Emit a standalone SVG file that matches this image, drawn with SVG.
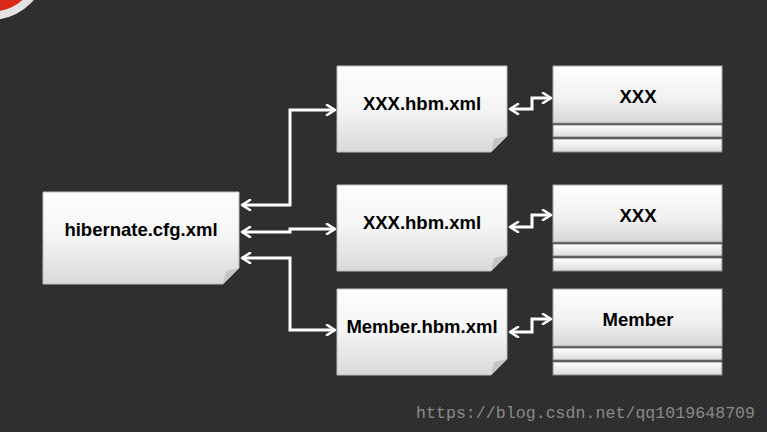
<svg xmlns="http://www.w3.org/2000/svg" width="767" height="432" viewBox="0 0 767 432">
<defs>
<linearGradient id="gdoc" x1="0" y1="0" x2="0" y2="1">
<stop offset="0" stop-color="#ffffff"/><stop offset="0.5" stop-color="#f4f4f4"/><stop offset="1" stop-color="#d9d9d9"/>
</linearGradient>
<linearGradient id="gtab" x1="0" y1="0" x2="0" y2="1">
<stop offset="0" stop-color="#ffffff"/><stop offset="0.6" stop-color="#f0f0f0"/><stop offset="1" stop-color="#d6d6d6"/>
</linearGradient>
<linearGradient id="gstrip" x1="0" y1="0" x2="0" y2="1">
<stop offset="0" stop-color="#ffffff"/><stop offset="1" stop-color="#dcdcdc"/>
</linearGradient>
<pattern id="tex" width="4" height="4" patternUnits="userSpaceOnUse">
<rect width="4" height="4" fill="#323232"/><rect width="2" height="2" fill="#2c2c2c"/><rect x="2" y="2" width="2" height="2" fill="#2c2c2c"/>
</pattern>
<marker id="ah" viewBox="0 0 12 12" refX="10" refY="6" markerWidth="12" markerHeight="12" markerUnits="userSpaceOnUse" orient="auto-start-reverse">
<path d="M2,1 L10,6 L2,11" fill="none" stroke="#ffffff" stroke-width="2.6" stroke-linecap="round" stroke-linejoin="round"/>
</marker>
</defs>
<style>
.doc{fill:url(#gdoc);stroke:#bdbdbd;stroke-width:1}
.fold{fill:#c4c4c4}
.tab{fill:url(#gtab);stroke:#aaaaaa;stroke-width:1}
.strip{fill:url(#gstrip);stroke:#8a8a8a;stroke-width:1}
.lbl{font-family:"Liberation Sans",Arial,sans-serif;font-weight:bold;font-size:18.5px;fill:#000;text-anchor:middle}
.con{fill:none;stroke:#ffffff;stroke-width:3;marker-start:url(#ah);marker-end:url(#ah);stroke-linejoin:miter}
</style>
<rect width="767" height="432" fill="url(#tex)"/>
<g id="badge">
<circle cx="-10" cy="-38" r="54" fill="#d92a1a" stroke="#e4e4e4" stroke-width="8"/>
</g>
<g id="hibernate">
<path class="doc" d="M43,192 H239 V268 L223,284 H43 Z"/>
<path class="fold" d="M239,268 L223,284 L226,271 Z"/>
<text class="lbl" x="141" y="236">hibernate.cfg.xml</text>
</g>
<g id="hbm1">
<path class="doc" d="M337,66 H507 V136 L491,152 H337 Z"/>
<path class="fold" d="M507,136 L491,152 L494,139 Z"/>
<text class="lbl" x="422" y="110">XXX.hbm.xml</text>
</g>
<g id="hbm2">
<path class="doc" d="M337,185 H507 V255 L491,271 H337 Z"/>
<path class="fold" d="M507,255 L491,271 L494,258 Z"/>
<text class="lbl" x="422" y="229">XXX.hbm.xml</text>
</g>
<g id="hbm3">
<path class="doc" d="M337,289 H507 V359 L491,375 H337 Z"/>
<path class="fold" d="M507,359 L491,375 L494,362 Z"/>
<text class="lbl" x="422" y="333">Member.hbm.xml</text>
</g>
<g id="table1">
<rect class="tab" x="553" y="66" width="169" height="57"/>
<rect class="strip" x="553" y="125" width="169" height="12"/>
<rect class="strip" x="553" y="139" width="169" height="13"/>
<text class="lbl" x="638" y="103">XXX</text>
</g>
<g id="table2">
<rect class="tab" x="553" y="185" width="169" height="57"/>
<rect class="strip" x="553" y="244" width="169" height="12"/>
<rect class="strip" x="553" y="258" width="169" height="13"/>
<text class="lbl" x="638" y="222">XXX</text>
</g>
<g id="table3">
<rect class="tab" x="553" y="289" width="169" height="57"/>
<rect class="strip" x="553" y="348" width="169" height="12"/>
<rect class="strip" x="553" y="362" width="169" height="13"/>
<text class="lbl" x="638" y="326">Member</text>
</g>
<g id="connectors">
<path class="con" d="M242,205 H290 V110 H335"/>
<path class="con" d="M242,232 H290 V229 H335"/>
<path class="con" d="M242,258 H290 V330 H335"/>
<path class="con" d="M510,109 H532 V98 H551"/>
<path class="con" d="M510,227 H532 V215 H551"/>
<path class="con" d="M510,332 H532 V319 H551"/>
</g>
<text x="416" y="418" font-family="'Liberation Mono',monospace" font-size="16.5" fill="#8a8a8a" textLength="339">https://blog.csdn.net/qq1019648709</text>
</svg>
